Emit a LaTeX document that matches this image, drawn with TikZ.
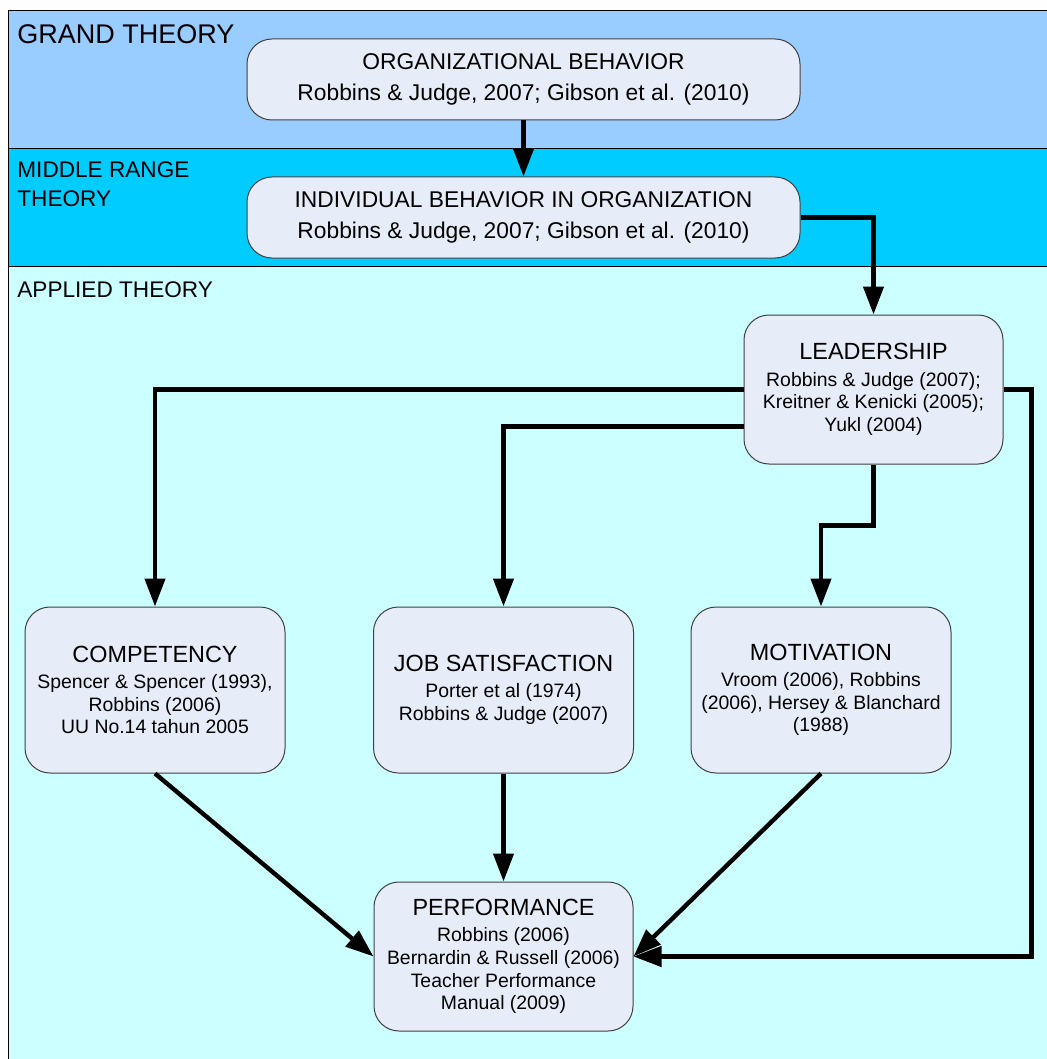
\documentclass[tikz,border=0pt]{standalone}
\usepackage{fontspec}
\setmainfont{Liberation Sans}
\usepackage{tikz}
\usetikzlibrary{calc,arrows.meta}

\definecolor{grandblue}{RGB}{153,204,255}
\definecolor{middleblue}{RGB}{0,204,255}
\definecolor{appliedblue}{RGB}{204,255,255}
\definecolor{boxfill}{RGB}{230,236,248}

\newcommand{\ttl}[1]{{\fontsize{11.7}{13}\selectfont #1}\\[1.8pt]}

\tikzset{
  theory/.style={box, font=\fontsize{11.4}{13.5}\selectfont,
    minimum width=276.5pt, minimum height=40.5pt},
  box/.style={draw=black!75, line width=0.5pt, fill=boxfill,
    rounded corners=12.5pt, align=center, inner sep=0pt,
    font=\fontsize{9.7}{11.3}\selectfont},
  small/.style={box, minimum width=129.5pt, minimum height=74.5pt},
  tall/.style={box, minimum width=130pt, minimum height=83pt},
  band/.style={anchor=base west, inner sep=0pt, align=left},
  link/.style={line width=2.2pt, -{Triangle[length=14pt,width=10pt]}}
}

\begin{document}
\begin{tikzpicture}[x=0.5pt,y=-0.5pt]
  \useasboundingbox (0,0) rectangle (1046,1059);

  %% The three layers of theory
  \draw[fill=grandblue, line width=0.5pt] (8,11) rectangle (1060,149);
  \draw[fill=middleblue, line width=0.5pt] (8,149) rectangle (1060,266);
  \draw[fill=appliedblue, line width=0.5pt] (8,266) rectangle (1060,1070);

  \node[band, font=\fontsize{13.5}{16}\selectfont] (GT) at (17,44) {GRAND THEORY};
  \node[band, font=\fontsize{11.3}{14}\selectfont] (MRT) at (17,206) {MIDDLE RANGE\\THEORY};
  \node[band, font=\fontsize{11.3}{14}\selectfont] (AT) at (17,297) {APPLIED THEORY};

  %% The boxes
  \node[theory] (org) at (523.5,79.5)
    {ORGANIZATIONAL BEHAVIOR\\[1.6pt] Robbins \& Judge, 2007; Gibson et al. (2010)};
  \node[theory] (ind) at (523.5,217.5)
    {INDIVIDUAL BEHAVIOR IN ORGANIZATION\\[1.6pt] Robbins \& Judge, 2007; Gibson et al. (2010)};
  \node[small] (lead) at (873.5,389.5)
    {\ttl{LEADERSHIP}Robbins \& Judge (2007);\\Kreitner \& Kenicki (2005);\\Yukl (2004)};
  \node[tall] (comp) at (155,690)
    {\ttl{COMPETENCY}Spencer \& Spencer (1993),\\Robbins (2006)\\UU No.14 tahun 2005};
  \node[tall] (jobsat) at (503.5,690)
    {\ttl{JOB SATISFACTION}Porter et al (1974)\\Robbins \& Judge (2007)};
  \node[tall] (motiv) at (821,690)
    {\ttl{MOTIVATION}Vroom (2006), Robbins\\(2006), Hersey \& Blanchard\\(1988)};
  \node[small] (perf) at (503.5,956.5)
    {\ttl{PERFORMANCE}Robbins (2006)\\Bernardin \& Russell (2006)\\Teacher Performance\\Manual (2009)};

  %% Connectors
  \draw[link] (org) -- (ind);
  \draw[link] (ind.east) -| (lead.north);
  \draw[link] (lead.west) -| (comp.north);
  \draw[link] ($(lead.west)+(0,37)$) -| (jobsat.north);
  \draw[link] (lead.south) -- ++(0,61) -| (motiv.north);
  \draw[link] (lead.east) -- ++(28,0) |- (perf.east);
  \draw[link] (comp.south) -- (perf.west);
  \draw[link] (jobsat) -- (perf);
  \draw[link] (motiv.south) -- (perf.east);
\end{tikzpicture}
\end{document}
